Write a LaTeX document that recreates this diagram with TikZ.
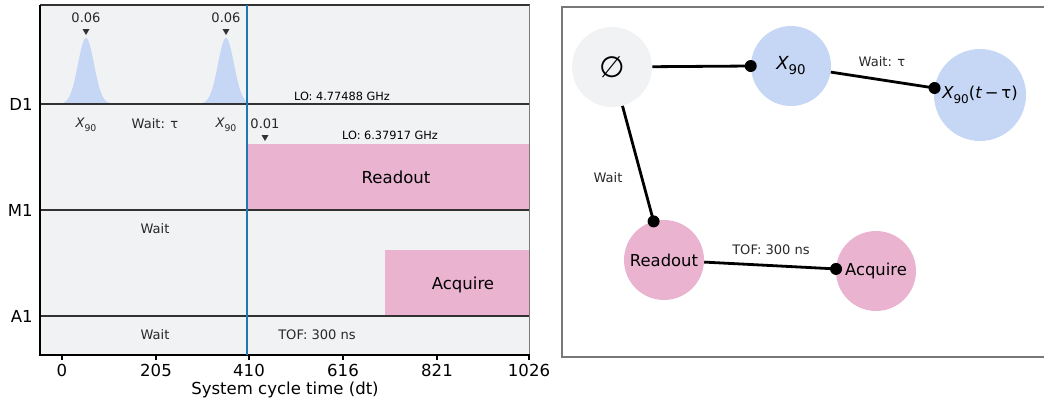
\documentclass[tikz,border=0pt]{standalone}
\usepackage{fontspec}
\setmainfont{DejaVu Sans}
\usetikzlibrary{calc}
\definecolor{bgc}{RGB}{241,242,244}
\definecolor{pulseblue}{RGB}{198,214,245}
\definecolor{pinkc}{RGB}{234,179,208}
\definecolor{tabblue}{HTML}{1F77B4}
\definecolor{framegray}{RGB}{120,120,120}
\definecolor{rowline}{RGB}{50,50,50}
\definecolor{txt}{RGB}{40,40,40}
\newcommand{\fsz}[1]{\fontsize{#1}{#1}\selectfont}
\newcommand{\Xnn}[1]{{\itshape X}\raisebox{-0.28em}{\fsz{#1}90}}
\tikzset{
  big/.style={font=\fsz{12.4}, text=black, inner sep=0pt},
  small/.style={font=\fsz{9.8}, text=txt, inner sep=0pt},
  tiny/.style={font=\fsz{8.5}, text=black, inner sep=0pt},
  gnode/.style={circle, minimum size=60pt, inner sep=0pt, draw=none, font=\fsz{12.3}},
  edge/.style={line width=2.1pt, black},
  dot/.style={circle, fill=black, inner sep=0pt, minimum size=9pt},
}
\begin{document}
\begin{tikzpicture}[x=0.75pt,y=-0.75pt]
\useasboundingbox (0,0) rectangle (1044,400);
% ---------- left panel ----------
\fill[bgc] (40,5) rectangle (529.5,355);
% pulses
\foreach \c in {86,226}{
  \fill[pulseblue] plot[domain=\c-23:\c+23, samples=60, smooth] (\x,{104-66*exp(-((\x-\c)^2)/(2*64))}) -- cycle;
}
\fill[pinkc] (247,144) rectangle (529.5,210);
\fill[pinkc] (385,250) rectangle (529.5,316);
% row lines
\draw[rowline, line width=0.8pt] (40,104) -- (529.5,104);
\draw[rowline, line width=0.8pt] (40,210) -- (529.5,210);
\draw[rowline, line width=0.8pt] (40,316) -- (529.5,316);
% frame
\draw[rowline, line width=0.8pt] (40,5) -- (529.5,5);
\draw[framegray, line width=0.8pt] (529.5,5) -- (529.5,355);
\draw[black, line width=0.8pt] (40,5) -- (40,355) -- (529.5,355);
% blue line
\draw[tabblue, line width=1.1pt] (247,5) -- (247,355);
% ticks
\foreach \t/\xx in {0/62,205/156,410/249,616/343,821/437,1026/529}{
  \draw[black, line width=0.8pt] (\xx,355) -- (\xx,359.5);
  \node[big] (tick\t) at (\xx,370) {\t};
}
\node[big] (xlabel) at (285,390) {System cycle time (dt)};
% row labels
\node[big, anchor=east] (lD1) at (33,104) {D1};
\node[big, anchor=east] (lM1) at (33,210) {M1};
\node[big, anchor=east] (lA1) at (33,316) {A1};
% pulse annotations
\node[small] (a1) at (86,18) {0.06};
\node[small] (a2) at (226,18) {0.06};
\fill[rowline] (82.5,29) -- (89.5,29) -- (86,35) -- cycle;
\fill[rowline] (222.5,29) -- (229.5,29) -- (226,35) -- cycle;
\node[small] (a3) at (265,124) {0.01};
\fill[rowline] (261.5,135) -- (268.5,135) -- (265,141) -- cycle;
\node[small] (x1) at (86,125) {\Xnn{7}};
\node[small] (w1) at (155,124) {Wait: τ};
\node[small] (x2) at (226,125) {\Xnn{7}};
\node[tiny] (lo1) at (342,96) {LO: 4.77488 GHz};
\node[tiny] (lo2) at (390,135) {LO: 6.37917 GHz};
\node[big] (ro) at (396,177) {Readout};
\node[small] (w2) at (155,229) {Wait};
\node[big] (acq) at (463,285) {Acquire};
\node[small] (w3) at (155,335) {Wait};
\node[small] (tof) at (317,335) {TOF: 300 ns};
% ---------- right panel ----------
\draw[framegray, line width=1pt] (1050,7) -- (562,7) -- (562,357) -- (1050,357);
\node[gnode, fill=bgc, font=\fsz{22}] (n0) at (612,67) {∅};
\node[gnode, fill=pulseblue, font=\fsz{13.5}] (n1) at (791,66) {\Xnn{10}};
\node[gnode, fill=pulseblue, minimum size=69pt] (n2) at (980,95) {\Xnn{9}(\textit{t}\,−\,τ)};
\node[gnode, fill=pinkc] (n3) at (664,260) {Readout};
\node[gnode, fill=pinkc] (n4) at (876,271) {Acquire};
% edges
\draw[edge] (n0) -- (n1.west);
\node[dot] at (n1.west) {};
\draw[edge] (n1) -- ($(n2.center)!34.5pt!(n1.center)$) node[dot] {};
\draw[edge] (n0) -- ($(n3.center)!30pt!(n0.center)$) node[dot] {};
\draw[edge] (n3) -- ($(n4.center)!30pt!(n3.center)$) node[dot] {};
\node[small] (e1) at (882,62) {Wait: τ};
\node[small] (e2) at (608,178) {Wait};
\node[small] (e3) at (771,250) {TOF: 300 ns};
\end{tikzpicture}
\end{document}
